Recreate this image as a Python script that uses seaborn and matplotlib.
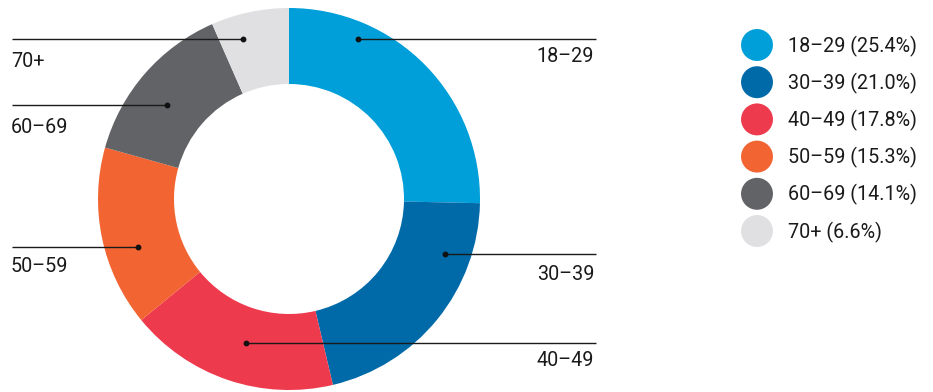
import matplotlib
matplotlib.use("Agg")
import matplotlib.pyplot as plt
import seaborn as sns

# Age-group shares of respondents (percent)
groups = ["18–29", "30–39", "40–49", "50–59", "60–69", "70+"]
shares = [25.4, 21.0, 17.8, 15.3, 14.1, 6.6]
colors = ["#009fda", "#006aa9", "#ee3a4d", "#f26532", "#626366", "#e0e0e2"]

sns.set_theme(style="white")
plt.rcParams["font.family"] = ["Roboto", "DejaVu Sans"]

W, H = 933, 392
fig = plt.figure(figsize=(W / 100, H / 100), dpi=100)
ax = fig.add_axes([0, 0, 1, 1])

# Donut, starting at 12 o'clock and running clockwise (y axis points down)
cx, cy, R, ring = 289, 199, 191, 76
ax.pie(shares, colors=colors, startangle=-90, counterclock=True,
       center=(cx, cy), radius=R, frame=True,
       wedgeprops=dict(width=ring, linewidth=0))
ax.set_xlim(0, W)
ax.set_ylim(H, 0)
ax.set_aspect("equal")
ax.axis("off")

# Leader lines: (dot x, line y, line end x, label y, side)
leaders = {
    "18–29": (358, 39, 596, 56, "right"),
    "30–39": (445, 254, 596, 275, "right"),
    "40–49": (246, 343, 596, 360, "right"),
    "50–59": (138, 247, 12, 267, "left"),
    "60–69": (167, 105, 12, 127, "left"),
    "70+":   (243, 39, 12, 61, "left"),
}
for name in groups:
    dx, ly, ex, ty, side = leaders[name]
    ax.plot([dx, ex], [ly, ly], color="#1a1a1a", lw=1.0, solid_capstyle="butt")
    ax.plot(dx, ly, "o", color="#111111", ms=3.2)
    tx = ex - 2 if side == "right" else ex - 1
    ax.text(tx, ty, name, ha=side, va="center", fontsize=14.2,
            color="#1a1a1a")

# Legend with round swatches
ly0, step = 45, 37.2
for i, (name, val, c) in enumerate(zip(groups, shares, colors)):
    y = ly0 + i * step
    ax.scatter([757], [y], s=31 ** 2 * 0.55, color=c, edgecolors="none")
    ax.text(788, y + 1, f"{name} ({val:.1f}%)", ha="left", va="center",
            fontsize=14.2, color="#1a1a1a")

fig.savefig("out.png", dpi=100, facecolor="white")
